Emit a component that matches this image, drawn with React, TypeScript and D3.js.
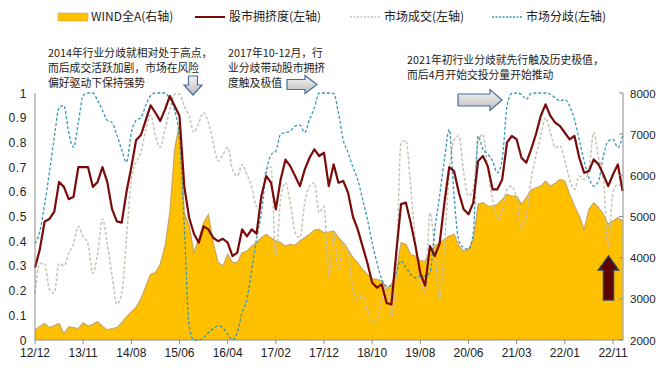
import React from 'react';
import * as d3 from 'd3';

const xLabels = ['12/12', '13/11', '14/08', '15/06', '16/04', '17/02', '17/12', '18/10', '19/08', '20/06', '21/03', '22/01', '22/11'];
const leftTicks = [0, 0.1, 0.2, 0.3, 0.4, 0.5, 0.6, 0.7, 0.8, 0.9, 1];
const rightTicks = [2000, 3000, 4000, 5000, 6000, 7000, 8000];

// 股市拥挤度 (left axis)
const crowding = [
  0.293, 0.367, 0.48, 0.49, 0.52, 0.64, 0.62, 0.57, 0.58, 0.70, 0.70, 0.70, 0.62, 0.64, 0.70, 0.64, 0.53, 0.48, 0.475, 0.60, 0.70, 0.81, 0.83, 0.89, 0.95,
  0.92, 0.887, 0.934, 0.988, 0.947, 0.907, 0.62, 0.495, 0.43, 0.394, 0.46, 0.448, 0.414, 0.40, 0.41, 0.394, 0.34, 0.354, 0.448, 0.42, 0.448, 0.43, 0.583, 0.664, 0.637,
  0.529, 0.65, 0.73, 0.704, 0.664, 0.623, 0.69, 0.738, 0.772, 0.745, 0.758, 0.623, 0.711, 0.637, 0.644, 0.596, 0.50, 0.448, 0.38, 0.313, 0.232, 0.212, 0.225, 0.15,
  0.144, 0.354, 0.55, 0.556, 0.475, 0.38, 0.27, 0.22, 0.38, 0.34, 0.39, 0.556, 0.70, 0.684, 0.596, 0.529, 0.509, 0.556, 0.725, 0.745, 0.704, 0.61, 0.61, 0.65, 0.80,
  0.826, 0.812, 0.738, 0.718, 0.772, 0.833, 0.907, 0.954, 0.907, 0.88, 0.866, 0.839, 0.812, 0.826, 0.738, 0.677, 0.684, 0.731, 0.711, 0.67, 0.623, 0.67, 0.711, 0.603,
];

// 市场成交 (left axis)
const volume = [
  0.19, 0.31, 0.31, 0.205, 0.19, 0.31, 0.30, 0.35, 0.39, 0.46, 0.42, 0.39, 0.27, 0.35, 0.49, 0.39, 0.26, 0.145, 0.19, 0.41, 0.65, 0.72, 0.76, 0.85, 0.91,
  0.826, 0.78, 0.853, 0.934, 0.995, 0.995, 0.947, 0.907, 0.84, 0.88, 0.92, 0.88, 0.80, 0.725, 0.75, 0.78, 0.69, 0.664, 0.71, 0.67, 0.62, 0.54, 0.57, 0.69, 0.70,
  0.34, 0.57, 0.637, 0.556, 0.435, 0.414, 0.556, 0.623, 0.637, 0.515, 0.54, 0.26, 0.435, 0.286, 0.394, 0.354, 0.205, 0.165, 0.178, 0.124, 0.07, 0.084, 0.165, 0.219,
  0.097, 0.273, 0.80, 0.806, 0.623, 0.394, 0.246, 0.19, 0.515, 0.367, 0.165, 0.38, 0.677, 0.81, 0.826, 0.677, 0.583, 0.61, 0.80, 0.833, 0.69, 0.57, 0.49, 0.53, 0.61,
  0.623, 0.57, 0.448, 0.50, 0.65, 0.745, 0.826, 0.90, 0.84, 0.779, 0.786, 0.725, 0.65, 0.61, 0.664, 0.65, 0.69, 0.84, 0.738, 0.65, 0.38, 0.596, 0.63, 0.623,
];

// 市场分歧 (left axis)
const divergence = [
  0.39, 0.44, 0.55, 0.68, 0.82, 0.94, 0.95, 0.84, 0.78, 0.88, 0.99, 1.0, 1.0, 0.97, 0.93, 0.89, 0.88, 0.83, 0.77, 0.72, 0.84, 0.89, 0.90, 0.95, 0.99,
  1.0, 1.0, 1.0, 0.975, 0.93, 0.81, 0.46, 0.057, 0.0, 0.0, 0.01, 0.03, 0.046, 0.057, 0.05, 0.023, 0.0, 0.03, 0.11, 0.165, 0.286, 0.41, 0.515, 0.677, 0.75,
  0.765, 0.833, 0.84, 0.846, 0.866, 0.87, 0.84, 0.893, 0.94, 1.0, 1.0, 1.0, 0.998, 0.92, 0.81, 0.758, 0.70, 0.65, 0.57, 0.49, 0.394, 0.313, 0.245, 0.219,
  0.219, 0.273, 0.32, 0.293, 0.266, 0.252, 0.259, 0.259, 0.273, 0.448, 0.583, 0.731, 0.853, 0.583, 0.40, 0.374, 0.367, 0.435, 0.826, 0.772, 0.752, 0.725, 0.677, 0.731, 0.947,
  0.999, 1.0, 0.995, 0.974, 0.999, 1.0, 1.0, 1.0, 0.995, 0.98, 0.968, 0.974, 0.947, 0.893, 0.81, 0.725, 0.657, 0.623, 0.644, 0.745, 0.806, 0.812, 0.779, 0.826,
];

// WIND全A (right axis)
const windA = [
  2250, 2330, 2400, 2300, 2350, 2400, 2150, 2320, 2300, 2280, 2420, 2340, 2380, 2450, 2330, 2250, 2280, 2300, 2420, 2560, 2680, 2800, 3000, 3300, 3600,
  3635, 3838, 4283, 5093, 6632, 7280, 5090, 4770, 4120, 4450, 4850, 5050, 4364, 3880, 3800, 4080, 3880, 3880, 4120, 4160, 4280, 4365, 4485, 4565, 4485,
  4405, 4365, 4283, 4322, 4300, 4405, 4486, 4567, 4672, 4688, 4607, 4624, 4648, 4486, 4365, 4202, 4000, 3878, 3716, 3595, 3490, 3474, 3433, 3231,
  3352, 3635, 4364, 4324, 4081, 4040, 3919, 3919, 4162, 4283, 4364, 4445, 4526, 4567, 4283, 4162, 4202, 4445, 5296, 5336, 5255, 5255, 5296, 5417, 5538,
  5498, 5498, 5296, 5457, 5644, 5700, 5740, 5862, 5740, 5806, 5903, 5862, 5538, 5255, 5012, 4688, 5174, 5336, 5214, 5053, 4810, 4891, 4972, 4891,
];

const FONT_CN = '"Noto Sans CJK SC", "Noto Sans", sans-serif';
const FONT_NUM = '"Liberation Sans", Arial, sans-serif';

export default function App() {
  const W = 662;
  const H = 368;
  const left = 35;
  const right = 623;
  const top = 93;
  const bottom = 340;

  const x = d3.scaleLinear().domain([0, 120]).range([35, 613]);
  const yL = d3.scaleLinear().domain([0, 1]).range([bottom, top]);
  const yR = d3.scaleLinear().domain([2000, 8000]).range([bottom, top]);

  const area = d3.area<number>().x((_, i) => x(i)).y0(yR(2000)).y1((d) => yR(d));
  const areaTop = d3.line<number>().x((_, i) => x(i)).y((d) => yR(d));
  const lineRed = d3.line<number>().x((_, i) => x(i)).y((d) => yL(d));
  const lineSmooth = d3.line<number>().x((_, i) => x(i)).y((d) => yL(d)).curve(d3.curveMonotoneX);

  const tickIdx = xLabels.map((_, k) => k * 10);

  const downArrow = (cx: number, y0: number, y1: number, sw: number, hw: number, hy: number) =>
    `M${cx - sw},${y0}L${cx + sw},${y0}L${cx + sw},${hy}L${cx + hw},${hy}L${cx},${y1}L${cx - hw},${hy}L${cx - sw},${hy}Z`;
  const upArrow = (cx: number, y0: number, y1: number, sw: number, hw: number, hy: number) =>
    `M${cx},${y0}L${cx + hw},${hy}L${cx + sw},${hy}L${cx + sw},${y1}L${cx - sw},${y1}L${cx - sw},${hy}L${cx - hw},${hy}Z`;
  const rightArrow = (x0: number, x1: number, cy: number, sh: number, hh: number, hx: number) =>
    `M${x0},${cy - sh}L${hx},${cy - sh}L${hx},${cy - hh}L${x1},${cy}L${hx},${cy + hh}L${hx},${cy + sh}L${x0},${cy + sh}Z`;

  const legendY = 17;

  return (
    <svg width={W} height={H} style={{ position: 'absolute', left: 0, top: 0, background: '#fff' }}>
      <defs>
        <linearGradient id="arrowFill" x1="0" y1="0" x2="0" y2="1">
          <stop offset="0%" stopColor="#F4F4F4" />
          <stop offset="100%" stopColor="#BDBDBD" />
        </linearGradient>
      </defs>
      <rect width={W} height={H} fill="#fff" />

      {/* area */}
      <path d={area(windA) || ''} fill="#FFC000" />
      <path d={areaTop(windA) || ''} fill="none" stroke="#C9A662" strokeWidth={1.2} />

      {/* lines */}
      <path d={lineSmooth(volume) || ''} fill="none" stroke="#C6C1B3" strokeWidth={1.5} strokeDasharray="3,2" />
      <path d={lineSmooth(divergence) || ''} fill="none" stroke="#3797B5" strokeWidth={1.3} strokeDasharray="3,2" />
      <path d={lineRed(crowding) || ''} fill="none" stroke="#7A0A0A" strokeWidth={2.2} strokeLinejoin="round" />

      {/* axes */}
      <line x1={left} y1={top} x2={left} y2={bottom} stroke="#8C8C8C" strokeWidth={1} />
      <line x1={left} y1={bottom} x2={right} y2={bottom} stroke="#8C8C8C" strokeWidth={1} />
      <line x1={right} y1={top} x2={right} y2={bottom} stroke="#8C8C8C" strokeWidth={1} />
      {tickIdx.map((t, k) => (
        <g key={k}>
          <line x1={x(t)} y1={bottom} x2={x(t)} y2={bottom + 4} stroke="#8C8C8C" />
          <text x={x(t)} y={bottom + 17} textAnchor="middle" fontFamily={FONT_NUM} fontSize={12} fill="#222">
            {xLabels[k]}
          </text>
        </g>
      ))}
      {leftTicks.map((v) => (
        <text key={v} x={27} y={yL(v) + 4.5} textAnchor="end" fontFamily={FONT_NUM} fontSize={12} letterSpacing={0.6} fill="#222">
          {v === 0 || v === 1 ? String(v) : v.toFixed(1)}
        </text>
      ))}
      {rightTicks.map((v) => (
        <g key={v}>
          <line x1={right - 4} y1={yR(v)} x2={right} y2={yR(v)} stroke="#8C8C8C" />
          <text x={630} y={yR(v) + 4.5} fontFamily={FONT_NUM} fontSize={11.5} fill="#222">
            {v}
          </text>
        </g>
      ))}

      {/* legend */}
      <rect x={58} y={legendY - 4} width={30} height={8} fill="#FFC000" stroke="#C9A662" strokeWidth={0.6} />
      <text x={91} y={legendY + 4} fontFamily={FONT_CN} fontSize={12} fill="#222">WIND全A(右轴)</text>
      <line x1={195} y1={legendY} x2={225} y2={legendY} stroke="#7A0A0A" strokeWidth={2} />
      <text x={229} y={legendY + 4} fontFamily={FONT_CN} fontSize={12} fill="#222">股市拥挤度(左轴)</text>
      <line x1={350} y1={legendY} x2={380} y2={legendY} stroke="#C6C1B3" strokeWidth={1.5} strokeDasharray="2,1.5" />
      <text x={384} y={legendY + 4} fontFamily={FONT_CN} fontSize={12} fill="#222">市场成交(左轴)</text>
      <line x1={492} y1={legendY} x2={522} y2={legendY} stroke="#3797B5" strokeWidth={1.3} strokeDasharray="2,1.5" />
      <text x={526} y={legendY + 4} fontFamily={FONT_CN} fontSize={12} fill="#222">市场分歧(左轴)</text>

      {/* annotations */}
      <g fontFamily={FONT_CN} fontSize={10.8} fill="#222">
        <text x={48} y={57}>2014年行业分歧就相对处于高点，</text>
        <text x={48} y={72}>而后成交活跃加剧，市场在风险</text>
        <text x={48} y={87}>偏好驱动下保持强势</text>
        <text x={228} y={57}>2017年10-12月，行</text>
        <text x={228} y={72}>业分歧带动股市拥挤</text>
        <text x={228} y={87}>度触及极值</text>
        <text x={407} y={64}>2021年初行业分歧就先行触及历史极值，</text>
        <text x={407} y={79}>而后4月开始交投分量开始推动</text>
      </g>

      {/* arrows */}
      <path d={downArrow(193, 76, 95, 4.5, 9, 85)} fill="url(#arrowFill)" stroke="#4A6C9B" strokeWidth={1.2} />
      <path d={rightArrow(287, 317, 84.5, 5, 9, 305)} fill="url(#arrowFill)" stroke="#4A6C9B" strokeWidth={1.2} />
      <path d={rightArrow(458, 502, 100, 6, 10.5, 490)} fill="url(#arrowFill)" stroke="#4A6C9B" strokeWidth={1.2} />
      <path d={upArrow(608.5, 256, 300, 5, 10, 270)} fill="#5C0000" stroke="#2B3F66" strokeWidth={1.5} />
    </svg>
  );
}
